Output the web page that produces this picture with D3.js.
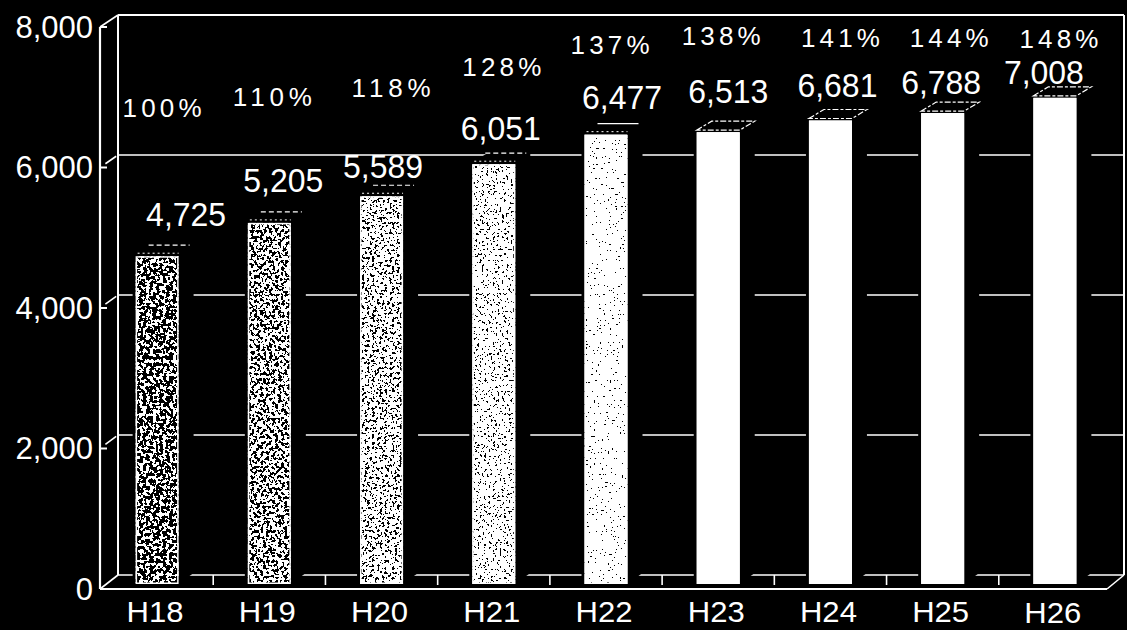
<!DOCTYPE html>
<html>
<head>
<meta charset="utf-8">
<script src="https://cdn.jsdelivr.net/npm/d3@7"></script>
<style>
html,body{margin:0;padding:0;background:#000;}
svg{display:block;}
text{font-family:"Liberation Sans",Arial,sans-serif;fill:#fff;}
</style>
</head>
<body>
<svg id="chart" width="1127" height="630"></svg>
<script>
// ---- data ----
const categories = ["H18","H19","H20","H21","H22","H23","H24","H25","H26"];
const values = [4725,5205,5589,6051,6477,6513,6681,6788,7008];
const percentLabels = ["100%","110%","118%","128%","137%","138%","141%","144%","148%"];
const yTicks = [0,2000,4000,6000,8000];
const yTickLabels = ["0","2,000","4,000","6,000","8,000"];

// ---- layout (label placement, speckle density) ----
const valueLabelDx = [29,14,1.5,7,16,10,7,-1.5,-11];
const valueLabelDy = [-30,-31,-18,-24,-26,-29,-23.5,-19,-14];
const pctLabelDx = [5,3,9.5,8,4,3,10,6.5,4];
const pctLabelY = [117,106,97,76,54,45,47,47,48];
const speckThreshold = [0.515,0.465,0.41,0.35,0.29,0,0,0,0];
const speckFreq = [0.3,0.33,0.4,0.45,0.5,0,0,0,0];

const svg = d3.select("#chart");
svg.append("rect").attr("width",1127).attr("height",630).attr("fill","#000");

const x = d3.scaleBand().domain(categories).range([101,1111]).paddingInner(0).paddingOuter(0);
const yBar = d3.scaleLinear().domain([0,8000]).range([584,29]);
const yAxis = d3.scaleLinear().domain([0,8000]).range([589,27]);
const yBack = d3.scaleLinear().domain([0,8000]).range([575,15]);
const barW = 43, depthX = 15, depthY = -11;
const backLeft = 118, backRight = 1124;

// filters for speckled bars
const defs = svg.append("defs");
speckThreshold.forEach((t,i)=>{
  if(t<=0) return;
  const n = 200;
  const table = d3.range(n).map(k => (k/n >= t ? 1 : 0)).join(" ");
  const f = defs.append("filter").attr("id","speck"+i)
    .attr("x",0).attr("y",0).attr("width",1).attr("height",1)
    .attr("color-interpolation-filters","sRGB");
  f.append("feTurbulence").attr("type","fractalNoise").attr("baseFrequency",speckFreq[i])
    .attr("numOctaves",2).attr("seed",i*7+3).attr("result","noise");
  f.append("feColorMatrix").attr("in","noise").attr("type","matrix")
    .attr("values","1 0 0 0 0  1 0 0 0 0  1 0 0 0 0  0 0 0 0 1").attr("result","gray");
  const ct = f.append("feComponentTransfer").attr("in","gray").attr("result","bw");
  ["feFuncR","feFuncG","feFuncB"].forEach(fn=>ct.append(fn).attr("type","discrete").attr("tableValues",table));
  f.append("feComposite").attr("in","bw").attr("in2","SourceGraphic").attr("operator","in");
});

// ---- back wall gridlines ----
const grid = svg.append("g").attr("stroke","#fff").attr("fill","none");
yTicks.forEach(v=>{
  grid.append("line").attr("x1",backLeft).attr("x2",backRight)
    .attr("y1",yBack(v)).attr("y2",yBack(v))
    .attr("stroke-width", v===8000 ? 2 : 1.6);
});
grid.append("line").attr("x1",backLeft).attr("x2",backLeft).attr("y1",yBack(8000)).attr("y2",yBack(0)).attr("stroke-width",2);
grid.append("line").attr("x1",backRight).attr("x2",backRight).attr("y1",yBack(8000)).attr("y2",yBack(0)).attr("stroke-width",2);
categories.slice(1).forEach(c=>{
  grid.append("line").attr("x1",x(c)).attr("x2",x(c)).attr("y1",yBack(0)).attr("y2",yBack(0)+10).attr("stroke-width",1.6);
});

// ---- bars ----
const bars = svg.append("g");
categories.forEach((c,i)=>{
  const v = values[i];
  const x0 = x(c) + (x.bandwidth()-barW)/2, x1 = x0 + barW;
  const yt = yBar(v), yb = yBar(0);
  bars.append("path")
    .attr("d",`M${x0-3},${yb} L${x0-3},${yt} L${x0+depthX},${yt+depthY} L${x1+depthX},${yt+depthY} L${x1+depthX},${yb+depthY} L${x1},${yb} Z`)
    .attr("fill","#000");
  const front = bars.append("rect").attr("x",x0).attr("y",yt).attr("width",barW).attr("height",yb-yt).attr("fill","#fff");
  if(speckThreshold[i]>0) front.attr("filter",`url(#speck${i})`);
  bars.append("rect").attr("x",x0+0.75).attr("y",yt+0.75).attr("width",barW-1.5).attr("height",yb-yt-1.5)
    .attr("fill","none").attr("stroke","#fff").attr("stroke-width",1.5);
  if(i>=5){
    bars.append("path")
      .attr("d",`M${x0},${yt-2} L${x0+depthX},${yt+depthY} L${x1+depthX},${yt+depthY} L${x1},${yt-2} Z`)
      .attr("fill","none").attr("stroke","#fff").attr("stroke-width",1.2).attr("stroke-dasharray","6 2 3 2");
  } else {
    bars.append("line").attr("x1",x0+depthX-2).attr("x2",x1+depthX-4)
      .attr("y1",yt+depthY).attr("y2",yt+depthY)
      .attr("stroke","#fff").attr("stroke-width",1.2).attr("stroke-dasharray", i<4 ? "5 3" : null);
    bars.append("line").attr("x1",x0+2).attr("x2",x1).attr("y1",yt-3).attr("y2",yt-3)
      .attr("stroke","#fff").attr("stroke-width",1).attr("stroke-dasharray","2 3");
  }
});

// ---- front axis frame ----
const ax = svg.append("g").attr("stroke","#fff").attr("fill","none");
ax.append("line").attr("x1",100).attr("x2",100).attr("y1",yAxis(8000)).attr("y2",yAxis(0)).attr("stroke-width",2.2);
ax.append("line").attr("x1",100).attr("x2",1107).attr("y1",yAxis(0)).attr("y2",yAxis(0)).attr("stroke-width",2.2);
ax.append("line").attr("x1",1107).attr("x2",backRight).attr("y1",yAxis(0)).attr("y2",yBack(0)).attr("stroke-width",1.6);
yTicks.forEach(v=>{
  ax.append("line").attr("x1",100).attr("x2",107).attr("y1",yAxis(v)).attr("y2",yAxis(v)).attr("stroke-width",2);
  const full = (v===0 || v===8000);
  const a = full ? 0 : 0.3, b = full ? 1 : 0.9;
  const xa = 100 + (backLeft-100)*a, xb = 100 + (backLeft-100)*b;
  const ya = yAxis(v) + (yBack(v)-yAxis(v))*a, yb2 = yAxis(v) + (yBack(v)-yAxis(v))*b;
  ax.append("line").attr("x1",xa).attr("x2",xb).attr("y1",ya).attr("y2",yb2).attr("stroke-width",1.6);
});

// ---- y tick labels ----
svg.append("g").selectAll("text").data(yTicks).join("text")
  .attr("x",93).attr("y",v=>yAxis(v)).attr("dy","0.35em")
  .attr("text-anchor","end").attr("font-size",31)
  .text((v,i)=>yTickLabels[i]);

// ---- category labels ----
svg.append("g").selectAll("text").data(categories).join("text")
  .attr("x",c=>x(c)+x.bandwidth()/2-2)
  .attr("y",(c,i)=> i===8 ? 623 : 622)
  .attr("text-anchor","middle").attr("font-size",30)
  .attr("textLength",57).attr("lengthAdjust","spacingAndGlyphs")
  .text(c=>c);

// ---- value labels ----
svg.append("g").selectAll("text").data(values).join("text")
  .attr("x",(v,i)=>x(categories[i])+x.bandwidth()/2+valueLabelDx[i])
  .attr("y",(v,i)=>yBar(v)+valueLabelDy[i])
  .attr("text-anchor","middle").attr("font-size",33)
  .attr("textLength",80).attr("lengthAdjust","spacingAndGlyphs")
  .text(v=>d3.format(",")(v));

// ---- percent labels ----
svg.append("g").selectAll("text").data(percentLabels).join("text")
  .attr("x",(p,i)=>x(categories[i])+x.bandwidth()/2+pctLabelDx[i])
  .attr("y",(p,i)=>pctLabelY[i])
  .attr("text-anchor","middle").attr("font-size",26)
  .attr("textLength",79).attr("lengthAdjust","spacing")
  .text(p=>p);
</script>
</body>
</html>
